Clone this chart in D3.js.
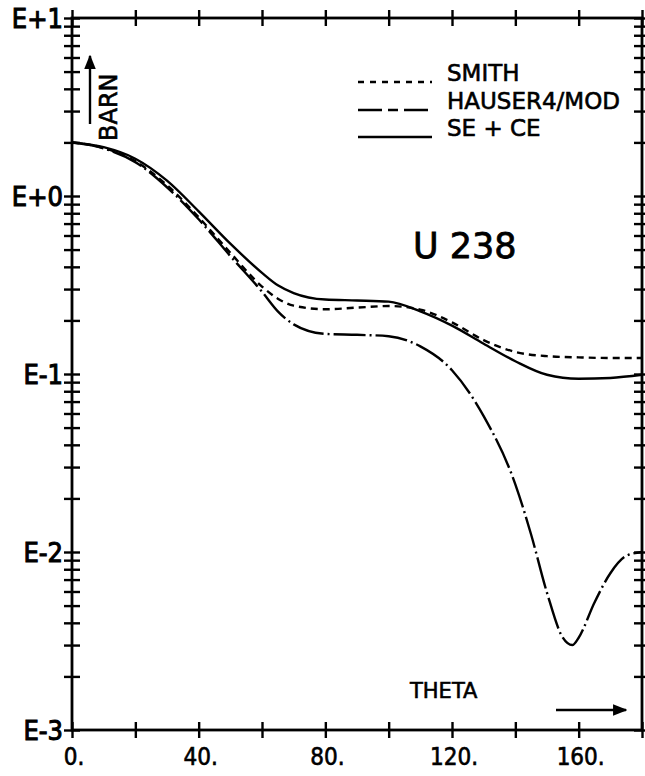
<!DOCTYPE html>
<html>
<head>
<meta charset="utf-8">
<script src="https://cdn.jsdelivr.net/npm/d3@7"></script>
<style>
  html, body { margin: 0; padding: 0; background: #fff; }
  svg { display: block; }
  text { font-family: "DejaVu Sans", sans-serif; fill: #000; stroke: #000; stroke-width: 0.6px; }
</style>
</head>
<body>
<script>
// ---- data ----
const theta = [0, 10, 20, 30, 40, 50, 60, 65, 70, 80, 90, 100, 110, 120, 130, 140, 150, 160, 170, 180];
const smith = [2.0, 1.86, 1.57, 1.15, 0.76, 0.48, 0.31, 0.265, 0.242, 0.231, 0.236, 0.241, 0.230, 0.195, 0.155, 0.133, 0.126, 0.124, 0.123, 0.123];
const seCe  = [2.0, 1.88, 1.62, 1.22, 0.82, 0.54, 0.37, 0.315, 0.285, 0.262, 0.259, 0.255, 0.225, 0.187, 0.148, 0.118, 0.099, 0.094, 0.095, 0.099];
const hauserTheta = [0, 10, 20, 30, 40, 50, 60, 65, 70, 80, 90, 100, 110, 120, 130, 140, 145, 150, 155, 158, 160, 165, 170, 175, 180];
const hauser = [2.0, 1.85, 1.55, 1.12, 0.74, 0.46, 0.29, 0.225, 0.19, 0.168, 0.166, 0.163, 0.143, 0.105, 0.058, 0.024, 0.0125, 0.0059, 0.0033, 0.0030, 0.0033, 0.0052, 0.0076, 0.0095, 0.0100];
const xTickValues = [0, 20, 40, 60, 80, 100, 120, 140, 160, 180];
const xTickLabels = ["0.", "", "40.", "", "80.", "", "120.", "", "160.", ""];
const decades = [-3, -2, -1, 0, 1];
const decadeLabels = ["E-3", "E-2", "E-1", "E+0", "E+1"];
const legendNames = ["SMITH", "HAUSER4/MOD", "SE + CE"];

// ---- layout ----
const W = 645, H = 776;
const L = 72, R = 642, T = 18, B = 730;
const svg = d3.select("body").append("svg").attr("width", W).attr("height", H);

const x = d3.scaleLinear().domain([0, 180]).range([L, R]);
const y = d3.scaleLog().domain([1e-3, 10]).range([B, T]);

const yTicks = [];
decades.forEach(e => { if (e < 1) for (let m = 1; m <= 9; m++) yTicks.push(m * Math.pow(10, e)); });
yTicks.push(10);

const TK = 8;
function crossTicks(g, horizontal) {
  g.select(".domain").remove();
  g.selectAll(".tick line").attr("stroke", "#000").attr("stroke-width", 2.4);
  if (horizontal) g.selectAll(".tick line").attr("y1", -TK).attr("y2", TK);
  else g.selectAll(".tick line").attr("x1", -TK).attr("x2", TK);
  g.selectAll(".tick text").remove();
}

svg.append("g").attr("transform", `translate(0,${B})`)
  .call(d3.axisBottom(x).tickValues(xTickValues).tickSize(TK)).call(g => crossTicks(g, true));
svg.append("g").attr("transform", `translate(0,${T})`)
  .call(d3.axisTop(x).tickValues(xTickValues).tickSize(TK)).call(g => crossTicks(g, true));
svg.append("g").attr("transform", `translate(${L},0)`)
  .call(d3.axisLeft(y).tickValues(yTicks).tickSize(TK)).call(g => crossTicks(g, false));
svg.append("g").attr("transform", `translate(${R},0)`)
  .call(d3.axisRight(y).tickValues(yTicks).tickSize(TK)).call(g => crossTicks(g, false));

// frame
svg.append("rect").attr("x", L).attr("y", T).attr("width", R - L).attr("height", B - T)
  .attr("fill", "none").attr("stroke", "#000").attr("stroke-width", 2.8);

// x labels
svg.append("g").selectAll("text").data(xTickValues.map((v, i) => ({v, t: xTickLabels[i]})).filter(d => d.t))
  .join("text").attr("x", d => x(d.v) + 2).attr("y", 765).attr("text-anchor", "middle")
  .attr("font-size", 24).style("font-family", "'DejaVu Sans Condensed', 'DejaVu Sans', sans-serif")
  .text(d => d.t);

// y labels
svg.append("g").selectAll("text").data(decades)
  .join("text").attr("x", 63).attr("y", d => y(Math.pow(10, d)) + 10).attr("text-anchor", "end")
  .attr("font-size", 27).style("font-family", "'DejaVu Sans Condensed', 'DejaVu Sans', sans-serif")
  .style("stroke-width", "1px")
  .text((d, i) => decadeLabels[i]);

// curves
const line = d3.line().x(d => x(d[0])).y(d => y(d[1])).curve(d3.curveMonotoneX);
const plot = svg.append("g");
plot.append("path").datum(theta.map((t, i) => [t, smith[i]]))
  .attr("d", line).attr("fill", "none").attr("stroke", "#000").attr("stroke-width", 2.4)
  .attr("stroke-dasharray", "7,5");
plot.append("path").datum(hauserTheta.map((t, i) => [t, hauser[i]]))
  .attr("d", line).attr("fill", "none").attr("stroke", "#000").attr("stroke-width", 2.4)
  .attr("stroke-dasharray", "32,4,2,4");
plot.append("path").datum(theta.map((t, i) => [t, seCe[i]]))
  .attr("d", line).attr("fill", "none").attr("stroke", "#000").attr("stroke-width", 2.4);

// legend
const dashes = ["6,6", "24,6,10,6", null];
const legY = [78, 106, 133];
legendNames.forEach((n, i) => {
  const ln = svg.append("line").attr("x1", 358).attr("x2", 432).attr("y1", legY[i] + 4).attr("y2", legY[i] + 4)
    .attr("stroke", "#000").attr("stroke-width", 2.6);
  if (dashes[i]) ln.attr("stroke-dasharray", dashes[i]);
  svg.append("text").attr("x", 447).attr("y", legY[i] + 3).attr("font-size", 23).text(n);
});

// U 238
svg.append("text").attr("x", 413).attr("y", 258).attr("font-size", 35).style("stroke-width", "0.8px").text("U 238");

// BARN + arrow
svg.append("text").attr("transform", "translate(117,141) rotate(-90)").attr("font-size", 24).text("BARN");
const defs = svg.append("defs");
defs.append("marker").attr("id", "ah").attr("viewBox", "0 0 10 10").attr("refX", 9).attr("refY", 5)
  .attr("markerWidth", 6).attr("markerHeight", 6).attr("orient", "auto-start-reverse")
  .append("path").attr("d", "M0,1 L10,5 L0,9 Z").attr("fill", "#000");
svg.append("line").attr("x1", 90).attr("x2", 90).attr("y1", 124).attr("y2", 56)
  .attr("stroke", "#000").attr("stroke-width", 2.4).attr("marker-end", "url(#ah)");

// THETA + arrow
svg.append("text").attr("x", 410).attr("y", 698).attr("font-size", 21).text("THETA");
svg.append("line").attr("x1", 556).attr("x2", 626).attr("y1", 710).attr("y2", 710)
  .attr("stroke", "#000").attr("stroke-width", 2.4).attr("marker-end", "url(#ah)");
</script>
</body>
</html>
